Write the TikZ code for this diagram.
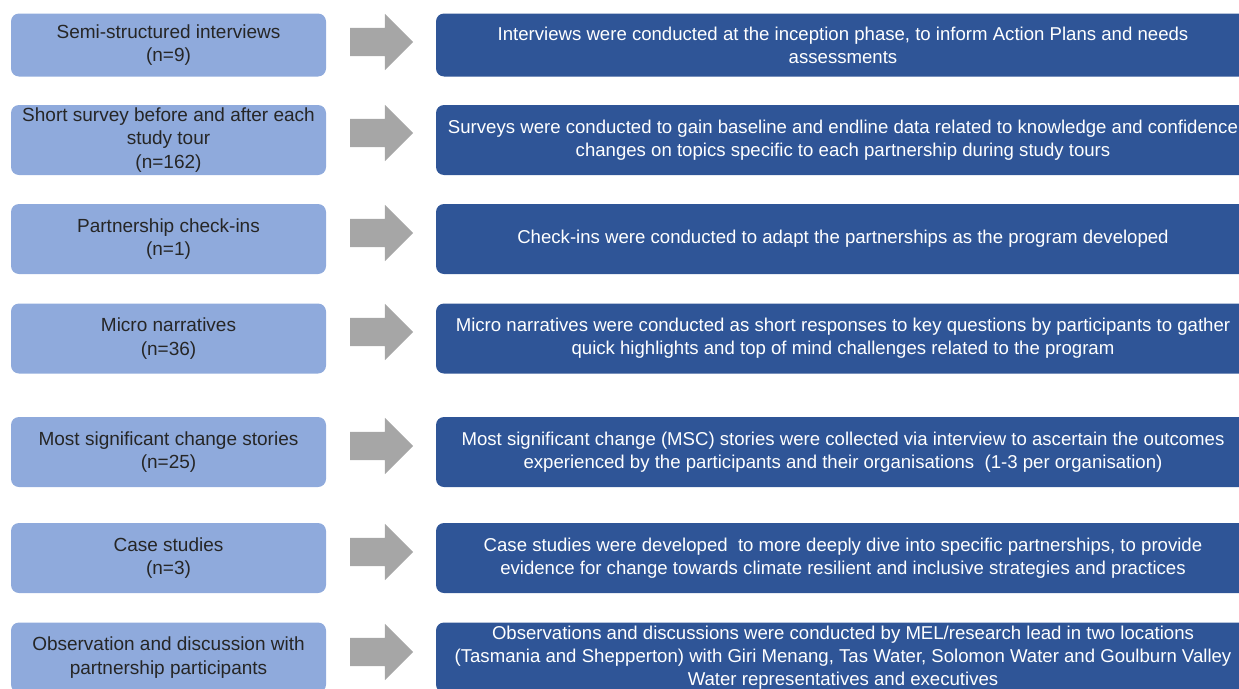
\documentclass[tikz,border=0pt]{standalone}
\usepackage{fontspec}
\setmainfont{Liberation Sans}
\usetikzlibrary{shapes.arrows}
\definecolor{methodblue}{HTML}{8FAADC}
\definecolor{detailblue}{HTML}{2F5597}
\definecolor{flowgray}{HTML}{A6A6A6}
\definecolor{inktext}{HTML}{262626}

\begin{document}
\begin{tikzpicture}[x=1pt, y=-1pt,
    method/.style={fill=methodblue, rounded corners=8pt, minimum width=315pt, minimum height=70pt,
        align=center, text=inktext, font=\fontsize{19}{23.5}\selectfont, inner sep=0pt},
    detail/.style={fill=detailblue, rounded corners=8pt, minimum width=814pt, minimum height=70pt,
        align=center, text=white, font=\fontsize{18.6}{23}\selectfont, inner sep=0pt},
    flow/.style={single arrow, fill=flowgray, inner xsep=0pt, inner ysep=14pt, minimum height=63pt,
        single arrow head extend=14pt}]
    \useasboundingbox (0,0) rectangle (1239,688);
    \clip (0,0) rectangle (1239,688);
    \node[method, minimum height=63pt] (m1) at (168.5,45) {Semi-structured interviews\\(n=9)};
    \node[method] (m2) at (168.5,140) {Short survey before and after each\\study tour\\(n=162)};
    \node[method] (m3) at (168.5,239) {Partnership check-ins\\(n=1)};
    \node[method] (m4) at (168.5,338.5) {Micro narratives\\(n=36)};
    \node[method] (m5) at (168.5,452) {Most significant change stories\\(n=25)};
    \node[method] (m6) at (168.5,558) {Case studies\\(n=3)};
    \node[method] (m7) at (168.5,657.5) {Observation and discussion with\\partnership participants};
    \node[flow] (f1) at (374.5,42) {};
    \node[flow] (f2) at (374.5,133) {};
    \node[flow] (f3) at (374.5,233) {};
    \node[flow] (f4) at (374.5,332) {};
    \node[flow] (f5) at (374.5,446) {};
    \node[flow] (f6) at (374.5,552) {};
    \node[flow] (f7) at (374.5,652) {};
    \node[detail, minimum height=63pt] (d1) at (843,45) {Interviews were conducted at the inception phase, to inform Action Plans and needs\\assessments};
    \node[detail] (d2) at (843,140) {Surveys were conducted to gain baseline and endline data related to knowledge and confidence\\changes on topics specific to each partnership during study tours};
    \node[detail] (d3) at (843,239) {Check-ins were conducted to adapt the partnerships as the program developed};
    \node[detail] (d4) at (843,338.5) {Micro narratives were conducted as short responses to key questions by participants to gather\\quick highlights and top of mind challenges related to the program};
    \node[detail] (d5) at (843,452) {Most significant change (MSC) stories were collected via interview to ascertain the outcomes\\experienced by the participants and their organisations\ \ (1-3 per organisation)};
    \node[detail] (d6) at (843,558) {Case studies were developed\ \ to more deeply dive into specific partnerships, to provide\\evidence for change towards climate resilient and inclusive strategies and practices};
    \node[detail] (d7) at (843,657.5) {Observations and discussions were conducted by MEL/research lead in two locations\\(Tasmania and Shepperton) with Giri Menang, Tas Water, Solomon Water and Goulburn Valley\\Water representatives and executives};
\end{tikzpicture}
\end{document}
